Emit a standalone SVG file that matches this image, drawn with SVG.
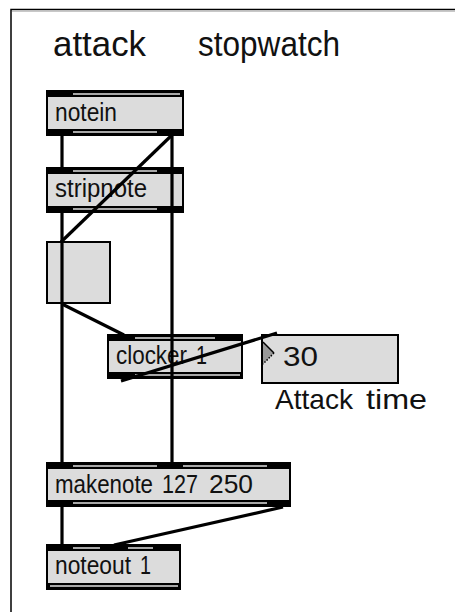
<svg xmlns="http://www.w3.org/2000/svg" width="455" height="612" viewBox="0 0 455 612">
  <style>
    .frame { fill: none; stroke: #000; stroke-width: 1.5; }
    .box { fill: #dcdcdc; stroke: #000; stroke-width: 2; }
    .bar { fill: #000; }
    .strip { fill: #a8a8a8; }
    .label { font-family: "Liberation Sans", Arial, sans-serif; font-size: 25px; fill: #111; }
    .title { font-family: "Liberation Sans", Arial, sans-serif; font-size: 35px; fill: #111; }
    .big { font-family: "Liberation Sans", Arial, sans-serif; font-size: 28.5px; fill: #111; }
    .wire { stroke: #000; stroke-width: 3.2; fill: none; }
  </style>
  <rect width="455" height="612" fill="#fff"/>

  <!-- patcher frame -->
  <path class="frame" d="M11,612 V9.5 H455"/>
  <line x1="12" y1="11.5" x2="455" y2="11.5" stroke="#c8c8c8" stroke-width="1"/>

  <!-- title comment -->
  <g id="title">
    <text class="title" x="53" y="56" textLength="93" lengthAdjust="spacingAndGlyphs">attack</text>
    <text class="title" x="198" y="56" textLength="142" lengthAdjust="spacingAndGlyphs">stopwatch</text>
  </g>

  <!-- notein -->
  <g id="notein">
    <rect class="box" x="47" y="91" width="136" height="44"/>
    <rect class="bar" x="47" y="91" width="136" height="6"/>
    <rect class="strip" x="73" y="93" width="107" height="2"/>
    <rect class="bar" x="47" y="129" width="136" height="6"/>
    <rect class="strip" x="73" y="131" width="84" height="2"/>
    <text class="label" x="55" y="121" textLength="62" lengthAdjust="spacingAndGlyphs">notein</text>
  </g>

  <!-- stripnote -->
  <g id="stripnote">
    <rect class="box" x="47" y="168" width="136" height="44"/>
    <rect class="bar" x="47" y="168" width="136" height="6"/>
    <rect class="strip" x="73" y="170" width="84" height="2"/>
    <rect class="bar" x="47" y="206" width="136" height="6"/>
    <rect class="strip" x="73" y="208" width="84" height="2"/>
    <text class="label" x="55" y="197" textLength="92" lengthAdjust="spacingAndGlyphs">stripnote</text>
  </g>

  <!-- toggle -->
  <g id="toggle">
    <rect class="box" x="47" y="242" width="63" height="61"/>
  </g>

  <!-- clocker 1 -->
  <g id="clocker">
    <rect class="box" x="108" y="335" width="134" height="43"/>
    <rect class="bar" x="108" y="335" width="134" height="6"/>
    <rect class="strip" x="135" y="337" width="80" height="2"/>
    <rect class="bar" x="108" y="372" width="134" height="6"/>
    <rect class="strip" x="135" y="374" width="105" height="2"/>
    <text class="label" x="116" y="364" textLength="71" lengthAdjust="spacingAndGlyphs">clocker</text>
    <text class="label" x="196" y="364" textLength="11" lengthAdjust="spacingAndGlyphs">1</text>
  </g>

  <!-- number box -->
  <g id="number">
    <rect class="box" x="262" y="335" width="136" height="48"/>
    <path d="M263,342 L274,353 L263,364 Z" fill="#999"/>
    <path d="M263,342 L274,353" stroke="#000" stroke-width="1.5"/>
    <path d="M274,353 L263,364" stroke="#000" stroke-width="1.5" stroke-dasharray="1.5,1.5"/>
    <text class="big" x="283" y="366" textLength="35" lengthAdjust="spacingAndGlyphs">30</text>
  </g>

  <!-- comment under number box -->
  <g id="attack-time">
    <text class="big" x="275" y="409" textLength="78" lengthAdjust="spacingAndGlyphs">Attack</text>
    <text class="big" x="366" y="409" textLength="61" lengthAdjust="spacingAndGlyphs">time</text>
  </g>

  <!-- makenote 127 250 -->
  <g id="makenote">
    <rect class="box" x="47" y="463" width="243" height="43"/>
    <rect class="bar" x="47" y="463" width="243" height="6"/>
    <rect class="strip" x="73" y="465" width="84" height="2"/>
    <rect class="strip" x="183" y="465" width="84" height="2"/>
    <rect class="bar" x="47" y="500" width="243" height="6"/>
    <rect class="strip" x="73" y="502" width="194" height="2"/>
    <text class="label" x="55" y="493" textLength="98" lengthAdjust="spacingAndGlyphs">makenote</text>
    <text class="label" x="162" y="493" textLength="36" lengthAdjust="spacingAndGlyphs">127</text>
    <text class="label" x="209" y="493" textLength="44" lengthAdjust="spacingAndGlyphs">250</text>
  </g>

  <!-- noteout 1 -->
  <g id="noteout">
    <rect class="box" x="47" y="545" width="133" height="44"/>
    <rect class="bar" x="47" y="545" width="133" height="6"/>
    <rect class="strip" x="73" y="547" width="27" height="2"/>
    <rect class="strip" x="128" y="547" width="25" height="2"/>
    <rect class="bar" x="47" y="583" width="133" height="6"/>
    <rect class="strip" x="50" y="585" width="128" height="2"/>
    <text class="label" x="55" y="574" textLength="76" lengthAdjust="spacingAndGlyphs">noteout</text>
    <text class="label" x="140" y="574" textLength="11" lengthAdjust="spacingAndGlyphs">1</text>
  </g>

  <!-- patch cords -->
  <g id="connections">
    <line class="wire" x1="62" y1="135" x2="62" y2="168"/>
    <line class="wire" x1="62" y1="212" x2="62" y2="463"/>
    <line class="wire" x1="172" y1="135" x2="172" y2="463"/>
    <line class="wire" x1="172" y1="135" x2="61" y2="242"/>
    <line class="wire" x1="62" y1="304" x2="124" y2="335"/>
    <line class="wire" x1="121" y1="381" x2="277" y2="333"/>
    <line class="wire" x1="62" y1="506" x2="62" y2="545"/>
    <line class="wire" x1="283" y1="507" x2="114" y2="545"/>
  </g>
</svg>
